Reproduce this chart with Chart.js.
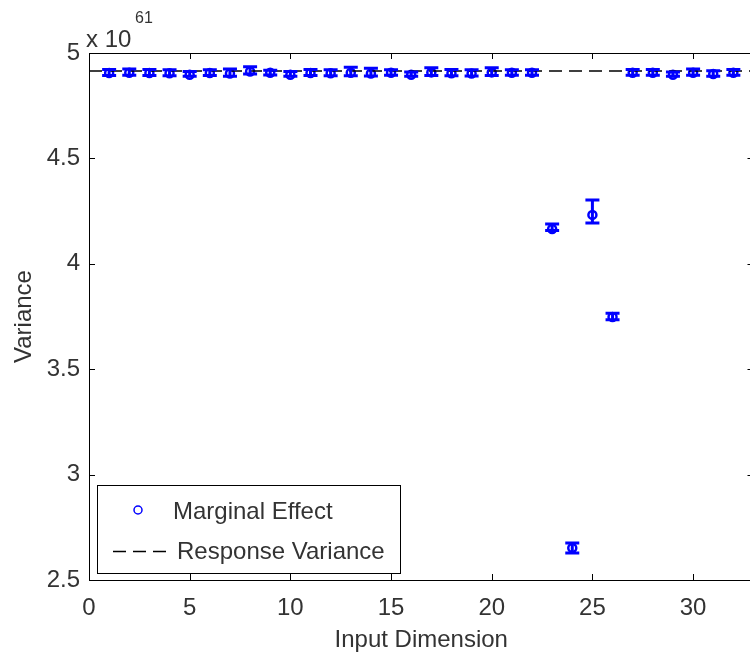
<!DOCTYPE html>
<html>
<head>
<meta charset="utf-8">
<script src="https://cdn.jsdelivr.net/npm/chart.js@4.4.1/dist/chart.umd.min.js"></script>
<style>
html, body { margin: 0; padding: 0; background: #fff; overflow: hidden; }
#wrap { width: 760px; height: 655px; }
</style>
</head>
<body>
<div id="wrap"><canvas id="varianceChart"></canvas></div>
<script>
// values in units of 1e61
const dims = [1, 2, 3, 4, 5, 6, 7, 8, 9, 10, 11, 12, 13, 14, 15, 16,
              17, 18, 19, 20, 21, 22, 23, 24, 25, 26, 27, 28, 29, 30, 31, 32];
const effectMean = [4.905, 4.906, 4.905, 4.904, 4.897, 4.905, 4.903, 4.912, 4.906, 4.897, 4.905, 4.904,
                    4.906, 4.903, 4.906, 4.897, 4.908, 4.904, 4.903, 4.908, 4.906, 4.906, 4.165, 2.652,
                    4.232, 3.748, 4.906, 4.906, 4.897, 4.906, 4.900, 4.906];
const effectHigh = [4.922, 4.924, 4.922, 4.920, 4.912, 4.921, 4.924, 4.935, 4.918, 4.912, 4.922, 4.920,
                    4.932, 4.928, 4.920, 4.910, 4.930, 4.922, 4.920, 4.930, 4.920, 4.920, 4.189, 2.676,
                    4.303, 3.765, 4.922, 4.922, 4.910, 4.924, 4.916, 4.922];
const effectLow = [4.893, 4.894, 4.893, 4.892, 4.890, 4.893, 4.890, 4.900, 4.896, 4.890, 4.893, 4.892,
                   4.892, 4.891, 4.894, 4.890, 4.893, 4.892, 4.891, 4.893, 4.894, 4.894, 4.158, 2.628,
                   4.194, 3.735, 4.894, 4.894, 4.890, 4.894, 4.890, 4.894];
const responseVariance = 4.915;
const xTicks = [0, 5, 10, 15, 20, 25, 30];
const yTicks = [2.5, 3, 3.5, 4, 4.5, 5];

const FONT = '"Liberation Sans", Arial, Helvetica, sans-serif';
const TEXT = '#333333';
const BLUE = '#0000ff';

// error bars, box, inward ticks, exponent and legend drawn MATLAB-style
const matlabPlugin = {
    id: 'matlabPlugin',
    afterDatasetsDraw(chart) {
        const ctx = chart.ctx;
        const xs = chart.scales.x, ys = chart.scales.y;
        ctx.save();
        ctx.strokeStyle = BLUE;
        ctx.lineWidth = 3;
        dims.forEach((d, i) => {
            const px = xs.getPixelForValue(d);
            const top = ys.getPixelForValue(effectHigh[i]);
            const bot = ys.getPixelForValue(effectLow[i]);
            ctx.beginPath();
            ctx.moveTo(px, top); ctx.lineTo(px, bot);
            ctx.moveTo(px - 7, top); ctx.lineTo(px + 7, top);
            ctx.moveTo(px - 7, bot); ctx.lineTo(px + 7, bot);
            ctx.stroke();
        });
        ctx.restore();
    },
    afterDraw(chart) {
        const ctx = chart.ctx;
        const a = chart.chartArea;
        const xs = chart.scales.x, ys = chart.scales.y;
        ctx.save();
        ctx.strokeStyle = '#000';
        ctx.lineWidth = 1;
        ctx.strokeRect(a.left + 0.5, a.top + 0.5, a.right - a.left, a.bottom - a.top);
        ctx.beginPath();
        xTicks.forEach(v => {
            const px = Math.round(xs.getPixelForValue(v)) + 0.5;
            ctx.moveTo(px, a.bottom); ctx.lineTo(px, a.bottom - 6);
            ctx.moveTo(px, a.top); ctx.lineTo(px, a.top + 6);
        });
        yTicks.forEach(v => {
            const py = Math.round(ys.getPixelForValue(v)) + 0.5;
            ctx.moveTo(a.left, py); ctx.lineTo(a.left + 6, py);
            ctx.moveTo(a.right, py); ctx.lineTo(a.right - 6, py);
        });
        ctx.stroke();

        // exponent label
        ctx.fillStyle = TEXT;
        ctx.textBaseline = 'alphabetic';
        ctx.textAlign = 'left';
        ctx.font = '24px ' + FONT;
        ctx.fillText('x 10', 86, 47);
        ctx.font = '16px ' + FONT;
        ctx.fillText('61', 135, 23);

        // legend
        const lx = 97, ly = 485, lw = 303, lh = 88;
        ctx.fillStyle = '#fff';
        ctx.fillRect(lx, ly, lw, lh);
        ctx.strokeStyle = '#000';
        ctx.strokeRect(lx + 0.5, ly + 0.5, lw, lh);
        ctx.strokeStyle = BLUE;
        ctx.lineWidth = 1.5;
        ctx.beginPath();
        ctx.arc(138, 510, 4, 0, Math.PI * 2);
        ctx.stroke();
        ctx.strokeStyle = '#000';
        ctx.lineWidth = 1.5;
        ctx.setLineDash([13, 7]);
        ctx.beginPath();
        ctx.moveTo(113, 551.5); ctx.lineTo(168, 551.5);
        ctx.stroke();
        ctx.setLineDash([]);
        ctx.fillStyle = TEXT;
        ctx.font = '24px ' + FONT;
        ctx.textBaseline = 'middle';
        ctx.fillText('Marginal Effect', 173, 512);
        ctx.fillText('Response Variance', 177, 552);
        ctx.restore();
    }
};

const ctx = document.getElementById('varianceChart').getContext('2d');

new Chart(ctx, {
    type: 'scatter',
    data: {
        datasets: [
            {
                label: 'Response Variance',
                type: 'line',
                data: [{ x: 0, y: responseVariance }, { x: 33, y: responseVariance }],
                borderColor: '#000',
                borderWidth: 1.5,
                borderDash: [13, 7],
                pointRadius: 0,
                fill: false,
            },
            {
                label: 'Marginal Effect',
                data: dims.map((d, i) => ({ x: d, y: effectMean[i] })),
                pointStyle: 'circle',
                pointRadius: 4,
                pointBorderWidth: 2.5,
                borderColor: BLUE,
                backgroundColor: 'rgba(0,0,0,0)',
            }
        ]
    },
    options: {
        responsive: true,
        maintainAspectRatio: false,
        animation: false,
        layout: { padding: { top: 53, right: 5, left: 0, bottom: 0 } },
        plugins: {
            legend: { display: false },
            tooltip: { enabled: false },
        },
        scales: {
            x: {
                type: 'linear',
                min: 0,
                max: 33,
                afterBuildTicks: s => { s.ticks = xTicks.map(v => ({ value: v })); },
                afterFit: s => { s.height = 75; },
                grid: { display: false, drawTicks: false },
                border: { display: false },
                ticks: {
                    color: TEXT,
                    font: { family: FONT, size: 24 },
                    padding: 14,
                    maxRotation: 0,
                    callback: v => String(v),
                },
                title: {
                    display: true,
                    text: 'Input Dimension',
                    color: TEXT,
                    font: { family: FONT, size: 24 },
                    padding: { top: 4, bottom: 0 },
                }
            },
            y: {
                type: 'linear',
                min: 2.5,
                max: 5,
                afterBuildTicks: s => { s.ticks = yTicks.map(v => ({ value: v })); },
                afterFit: s => { s.width = 89; },
                grid: { display: false, drawTicks: false },
                border: { display: false },
                ticks: {
                    color: TEXT,
                    font: { family: FONT, size: 24 },
                    padding: 9,
                    callback: v => String(v),
                },
                title: {
                    display: true,
                    text: 'Variance',
                    color: TEXT,
                    font: { family: FONT, size: 24 },
                    padding: { top: 10, bottom: 0 },
                }
            }
        }
    },
    plugins: [matlabPlugin]
});
</script>
</body>
</html>
